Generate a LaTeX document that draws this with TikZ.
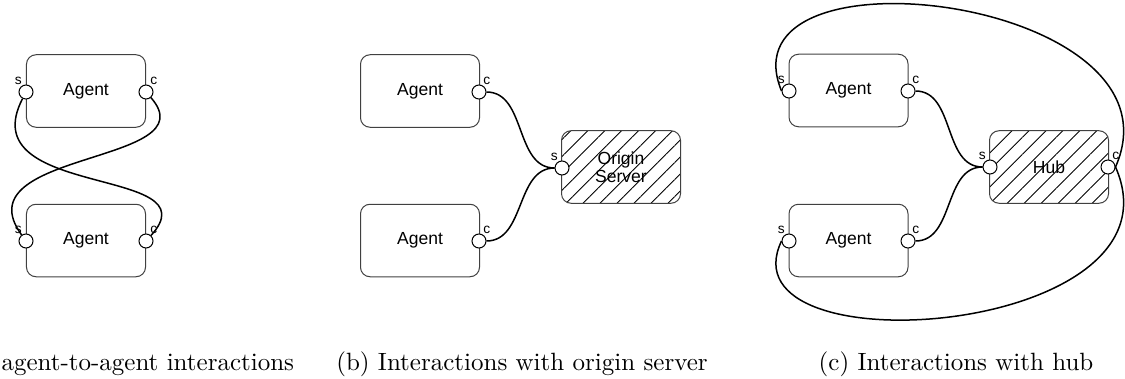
\documentclass[tikz,border=0pt]{standalone}
\usepackage{fontspec}
\newfontfamily\diafont{Liberation Sans}
\usetikzlibrary{patterns.meta}
\begin{document}
\begin{tikzpicture}[x=0.4pt, y=0.4pt,
    agent/.style={draw=black!75, rounded corners=3.8pt, minimum width=47.6pt, minimum height=29pt, align=center, font=\diafont\fontsize{7}{7.2}\selectfont},
    hubbox/.style={agent, pattern={Lines[angle=45, distance=4.8pt, line width=0.35pt]}},
    port/.style={circle, draw, fill=white, minimum size=5.6pt, label distance=1.1pt},
    lbl/.style={font=\diafont\fontsize{5.5}{5.5}\selectfont},
    wire/.style={line width=0.6pt}]
      \tikzstyle{every node}+=[inner sep=0pt]
      \useasboundingbox (0,0) rectangle (1125,-379);
      \node[agent] (a1) at (86,-91) {Agent};
      \node[agent] (a2) at (86,-240.5) {Agent};
      \node[port, label={[lbl]120:s}] (a1s) at (26,-92) {};
      \node[port, label={[lbl]60:c}] (a1c) at (146,-92) {};
      \node[port, label={[lbl]120:s}] (a2s) at (26,-241) {};
      \node[port, label={[lbl]60:c}] (a2c) at (146,-241) {};
      \draw[wire] (a1s) .. controls +(-56,-108) and +(69,76) .. (a2c);
      \draw[wire] (a1c) .. controls +(64,-73) and +(-66,91) .. (a2s);
      \node[agent] (b1) at (420,-91) {Agent};
      \node[agent] (b2) at (420,-240.5) {Agent};
      \node[hubbox] (srv) at (621,-167) {Origin\\Server};
      \node[port, label={[lbl]60:c}] (b1c) at (479,-92) {};
      \node[port, label={[lbl]60:c}] (b2c) at (479,-241) {};
      \node[port, label={[lbl]120:s}] (srvs) at (562,-168) {};
      \draw[wire] (b1c) to[out=0, in=180] (srvs);
      \draw[wire] (b2c) to[out=0, in=180] (srvs);
      \node[agent] (c1) at (848.5,-90.5) {Agent};
      \node[agent] (c2) at (848.5,-240.5) {Agent};
      \node[hubbox] (hub) at (1049,-167) {Hub};
      \node[port, label={[lbl]120:s}] (c1s) at (789,-91) {};
      \node[port, label={[lbl]60:c}] (c1c) at (908,-91) {};
      \node[port, label={[lbl]120:s}] (c2s) at (789,-241) {};
      \node[port, label={[lbl]60:c}] (c2c) at (908,-241) {};
      \node[port, label={[lbl]120:s}] (hubs) at (990,-167) {};
      \node[port, label={[lbl]60:c}] (hubc) at (1108,-167) {};
      \draw[wire] (c1c) to[out=0, in=180] (hubs);
      \draw[wire] (c2c) to[out=0, in=180] (hubs);
      \draw[wire] (c1s.west) .. controls +(-62,151) and +(75,170) .. (hubc.east);
      \draw[wire] (c2s.west) .. controls +(-62,-130) and +(75,-170) .. (hubc.east);
      \node[anchor=base west] (capa) at (1,-370) {agent-to-agent interactions};
      \node[anchor=base] (capb) at (522,-370) {(b) Interactions with origin server};
      \node[anchor=base] (capc) at (956,-370) {(c) Interactions with hub};
    \end{tikzpicture}
\end{document}
